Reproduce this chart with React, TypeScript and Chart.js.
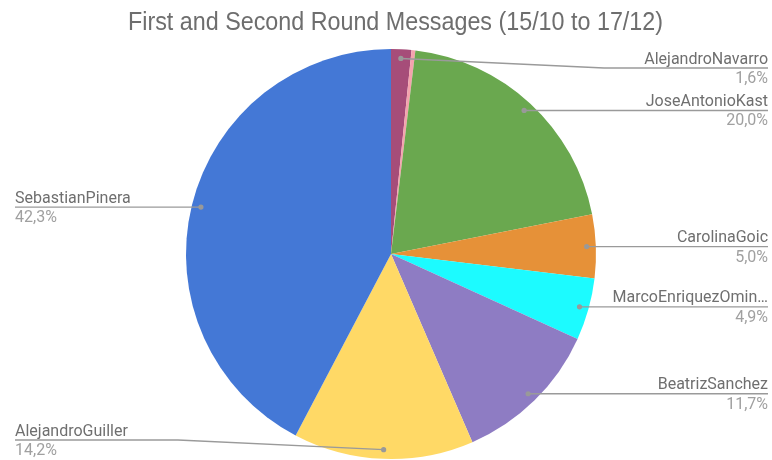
import React, { useEffect, useRef } from "react";
import { Chart, registerables } from "chart.js";

Chart.register(...registerables);

const titleText = "First and Second Round Messages (15/10 to 17/12)";
const candidates = [
  "AlejandroNavarro",
  "EduardoArtes",
  "JoseAntonioKast",
  "CarolinaGoic",
  "MarcoEnriquezOminami",
  "BeatrizSanchez",
  "AlejandroGuiller",
  "SebastianPinera",
];
const shares = [1.6, 0.3, 20.0, 5.0, 4.9, 11.7, 14.2, 42.3];
const sliceColors = [
  "#a64d79",
  "#f4a3ad",
  "#6aa84f",
  "#e69138",
  "#1cfbff",
  "#8e7cc3",
  "#ffd966",
  "#4478d6",
];

const W = 772;
const H = 460;

function fitText(ctx: CanvasRenderingContext2D, text: string, maxW: number) {
  if (ctx.measureText(text).width <= maxW) return text;
  let t = text;
  while (t.length > 1 && ctx.measureText(t + "…").width > maxW) t = t.slice(0, -1);
  return t + "…";
}

const labelPlugin = {
  id: "sliceLabels",
  afterDraw(chart: any) {
    const ctx: CanvasRenderingContext2D = chart.ctx;
    const total = shares.reduce((a, b) => a + b, 0);
    // title
    ctx.save();
    ctx.font = "25px 'Liberation Sans', Arial, sans-serif";
    ctx.fillStyle = "#6e6e6e";
    ctx.textBaseline = "alphabetic";
    const tw = ctx.measureText(titleText).width;
    const targetW = 535;
    const sx = targetW / tw;
    ctx.translate(395.5 - targetW / 2, 30);
    ctx.scale(sx, 1);
    ctx.textAlign = "left";
    ctx.fillText(titleText, 0, 0);
    ctx.restore();

    const meta = chart.getDatasetMeta(0);
    meta.data.forEach((arc: any, i: number) => {
      const p = arc.getProps(["x", "y", "startAngle", "endAngle", "outerRadius"], true);
      const pct = (shares[i] / total) * 100;
      if (pct < 1) return;
      const mid = (p.startAngle + p.endAngle) / 2;
      const r = p.outerRadius;
      const dotX = p.x + Math.cos(mid) * r * 0.955;
      const dotY = p.y + Math.sin(mid) * r * 0.955;
      const right = Math.cos(mid) >= 0;
      const lineY = Math.min(440, Math.max(68, dotY));
      const bendX = right ? p.x + r + 8 : p.x - r - 8;
      const endX = right ? 768 : 15;

      ctx.save();
      ctx.strokeStyle = "#9a9a9a";
      ctx.lineWidth = 1.4;
      ctx.beginPath();
      ctx.moveTo(dotX, dotY);
      if (Math.abs(lineY - dotY) > 0.5) ctx.lineTo(bendX, lineY);
      ctx.lineTo(endX, lineY);
      ctx.stroke();
      ctx.fillStyle = "#999999";
      ctx.beginPath();
      ctx.arc(dotX, dotY, 2.6, 0, Math.PI * 2);
      ctx.fill();

      ctx.font = "16px Roboto, sans-serif";
      ctx.textAlign = right ? "right" : "left";
      ctx.textBaseline = "alphabetic";
      ctx.fillStyle = "#6f6f6f";
      const maxW = right ? 768 - (p.x + r + 12) : p.x - r - 12 - 15;
      ctx.fillText(fitText(ctx, candidates[i], maxW), endX, lineY - 4.5);
      ctx.fillStyle = "#a0a0a0";
      ctx.fillText(pct.toFixed(1).replace(".", ",") + "%", endX, lineY + 15);
      ctx.restore();
    });
  },
};

export default function App() {
  const ref = useRef<HTMLCanvasElement | null>(null);
  useEffect(() => {
    if (!ref.current) return;
    const chart = new Chart(ref.current, {
      type: "pie",
      data: {
        labels: candidates,
        datasets: [
          {
            data: shares,
            backgroundColor: sliceColors,
            borderWidth: 0,
          },
        ],
      },
      options: {
        responsive: false,
        animation: false,
        layout: { padding: { top: 49, bottom: 1, left: 186, right: 176 } },
        plugins: {
          legend: { display: false },
          title: { display: false },
          tooltip: { enabled: false },
        },
      },
      plugins: [labelPlugin],
    });
    return () => chart.destroy();
  }, []);
  return (
    <div style={{ position: "fixed", left: 0, top: 0, width: W, height: H, background: "#fff" }}>
      <canvas ref={ref} width={W} height={H} style={{ display: "block" }} />
    </div>
  );
}
